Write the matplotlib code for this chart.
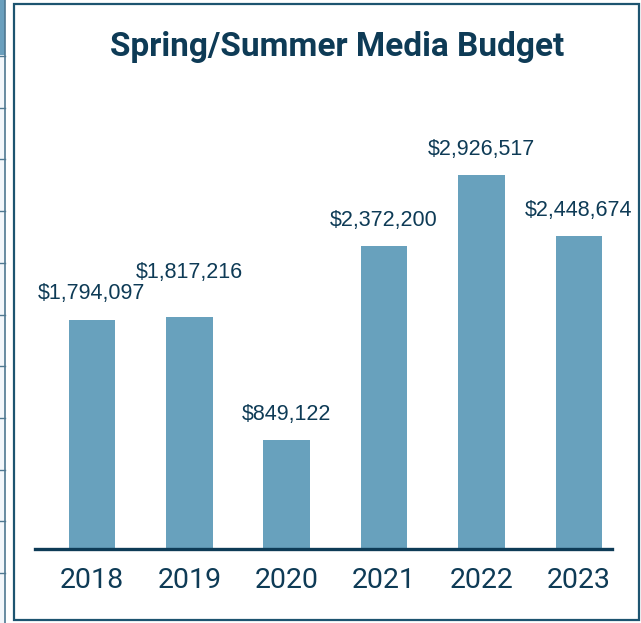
import matplotlib
matplotlib.use("Agg")
import matplotlib.pyplot as plt
from matplotlib import font_manager
from matplotlib.patches import Rectangle
from matplotlib.lines import Line2D

years = ["2018", "2019", "2020", "2021", "2022", "2023"]
budget = [1794097, 1817216, 849122, 2372200, 2926517, 2448674]
title = "Spring/Summer Media Budget"

W, H = 641, 623
bar_color = "#68a1bd"
navy = "#0e3b56"
frame_color = "#1d5470"

installed = {f.name for f in font_manager.fontManager.ttflist}
narrow = "Liberation Sans Narrow" if "Liberation Sans Narrow" in installed else "Roboto"
regular = "Liberation Sans"


def fx(px):
    return px / W


def fy(py):
    return 1 - py / H


fig = plt.figure(figsize=(W / 100, H / 100), dpi=100)

# bit of the neighbouring table on the left edge
fig.patches.append(Rectangle((0, fy(H)), fx(5), 1, transform=fig.transFigure,
                             facecolor="#f3f7fb", edgecolor="none"))
fig.patches.append(Rectangle((0, fy(55)), fx(5), 55 / H, transform=fig.transFigure,
                             facecolor="#6a9fbd", edgecolor="none"))
fig.lines.append(Line2D([fx(5), fx(5)], [0, 1], transform=fig.transFigure,
                        color="#4f7891", lw=1.2))
for i in range(11):
    y = 56 + 51.7 * i
    fig.lines.append(Line2D([0, fx(5)], [fy(y), fy(y)], transform=fig.transFigure,
                            color="#4f7891", lw=1.0))

# chart frame
fig.patches.append(Rectangle((fx(14), fy(620)), fx(639 - 14), (620 - 4) / H,
                             transform=fig.transFigure, facecolor="none",
                             edgecolor=frame_color, lw=1.6))

ax = fig.add_axes([fx(35), fy(549), fx(612 - 35), (549 - 100) / H])
ax.set_facecolor("none")
x = list(range(len(years)))
bars = ax.bar(x, budget, width=0.48, color=bar_color, zorder=2)
ax.set_xlim(-0.585, 5.34)
ax.set_ylim(0, 3.513e6)

for s in ["top", "left", "right"]:
    ax.spines[s].set_visible(False)
ax.spines["bottom"].set_color(navy)
ax.spines["bottom"].set_linewidth(2.4)
ax.spines["bottom"].set_zorder(3)
ax.set_yticks([])
ax.set_xticks(x)
ax.set_xticklabels(years, fontfamily=narrow, fontsize=20.5, color=navy)
ax.tick_params(axis="x", length=0, pad=13)

# label offsets (points) - 2019 label sits higher in the original
offsets = [(0, 11), (0, 24), (0, 11), (0, 11), (0, 11), (0, 11)]
for xi, v, off in zip(x, budget, offsets):
    ax.annotate("${:,}".format(v), (xi, v), xytext=off, textcoords="offset points",
                ha="center", va="bottom", fontsize=15.5, color=navy,
                fontfamily=regular)

fig.text(fx(337), fy(47), title, ha="center", va="center", fontsize=24,
         fontweight="bold", fontfamily=narrow, color=navy)

fig.savefig("out.png", dpi=100)
